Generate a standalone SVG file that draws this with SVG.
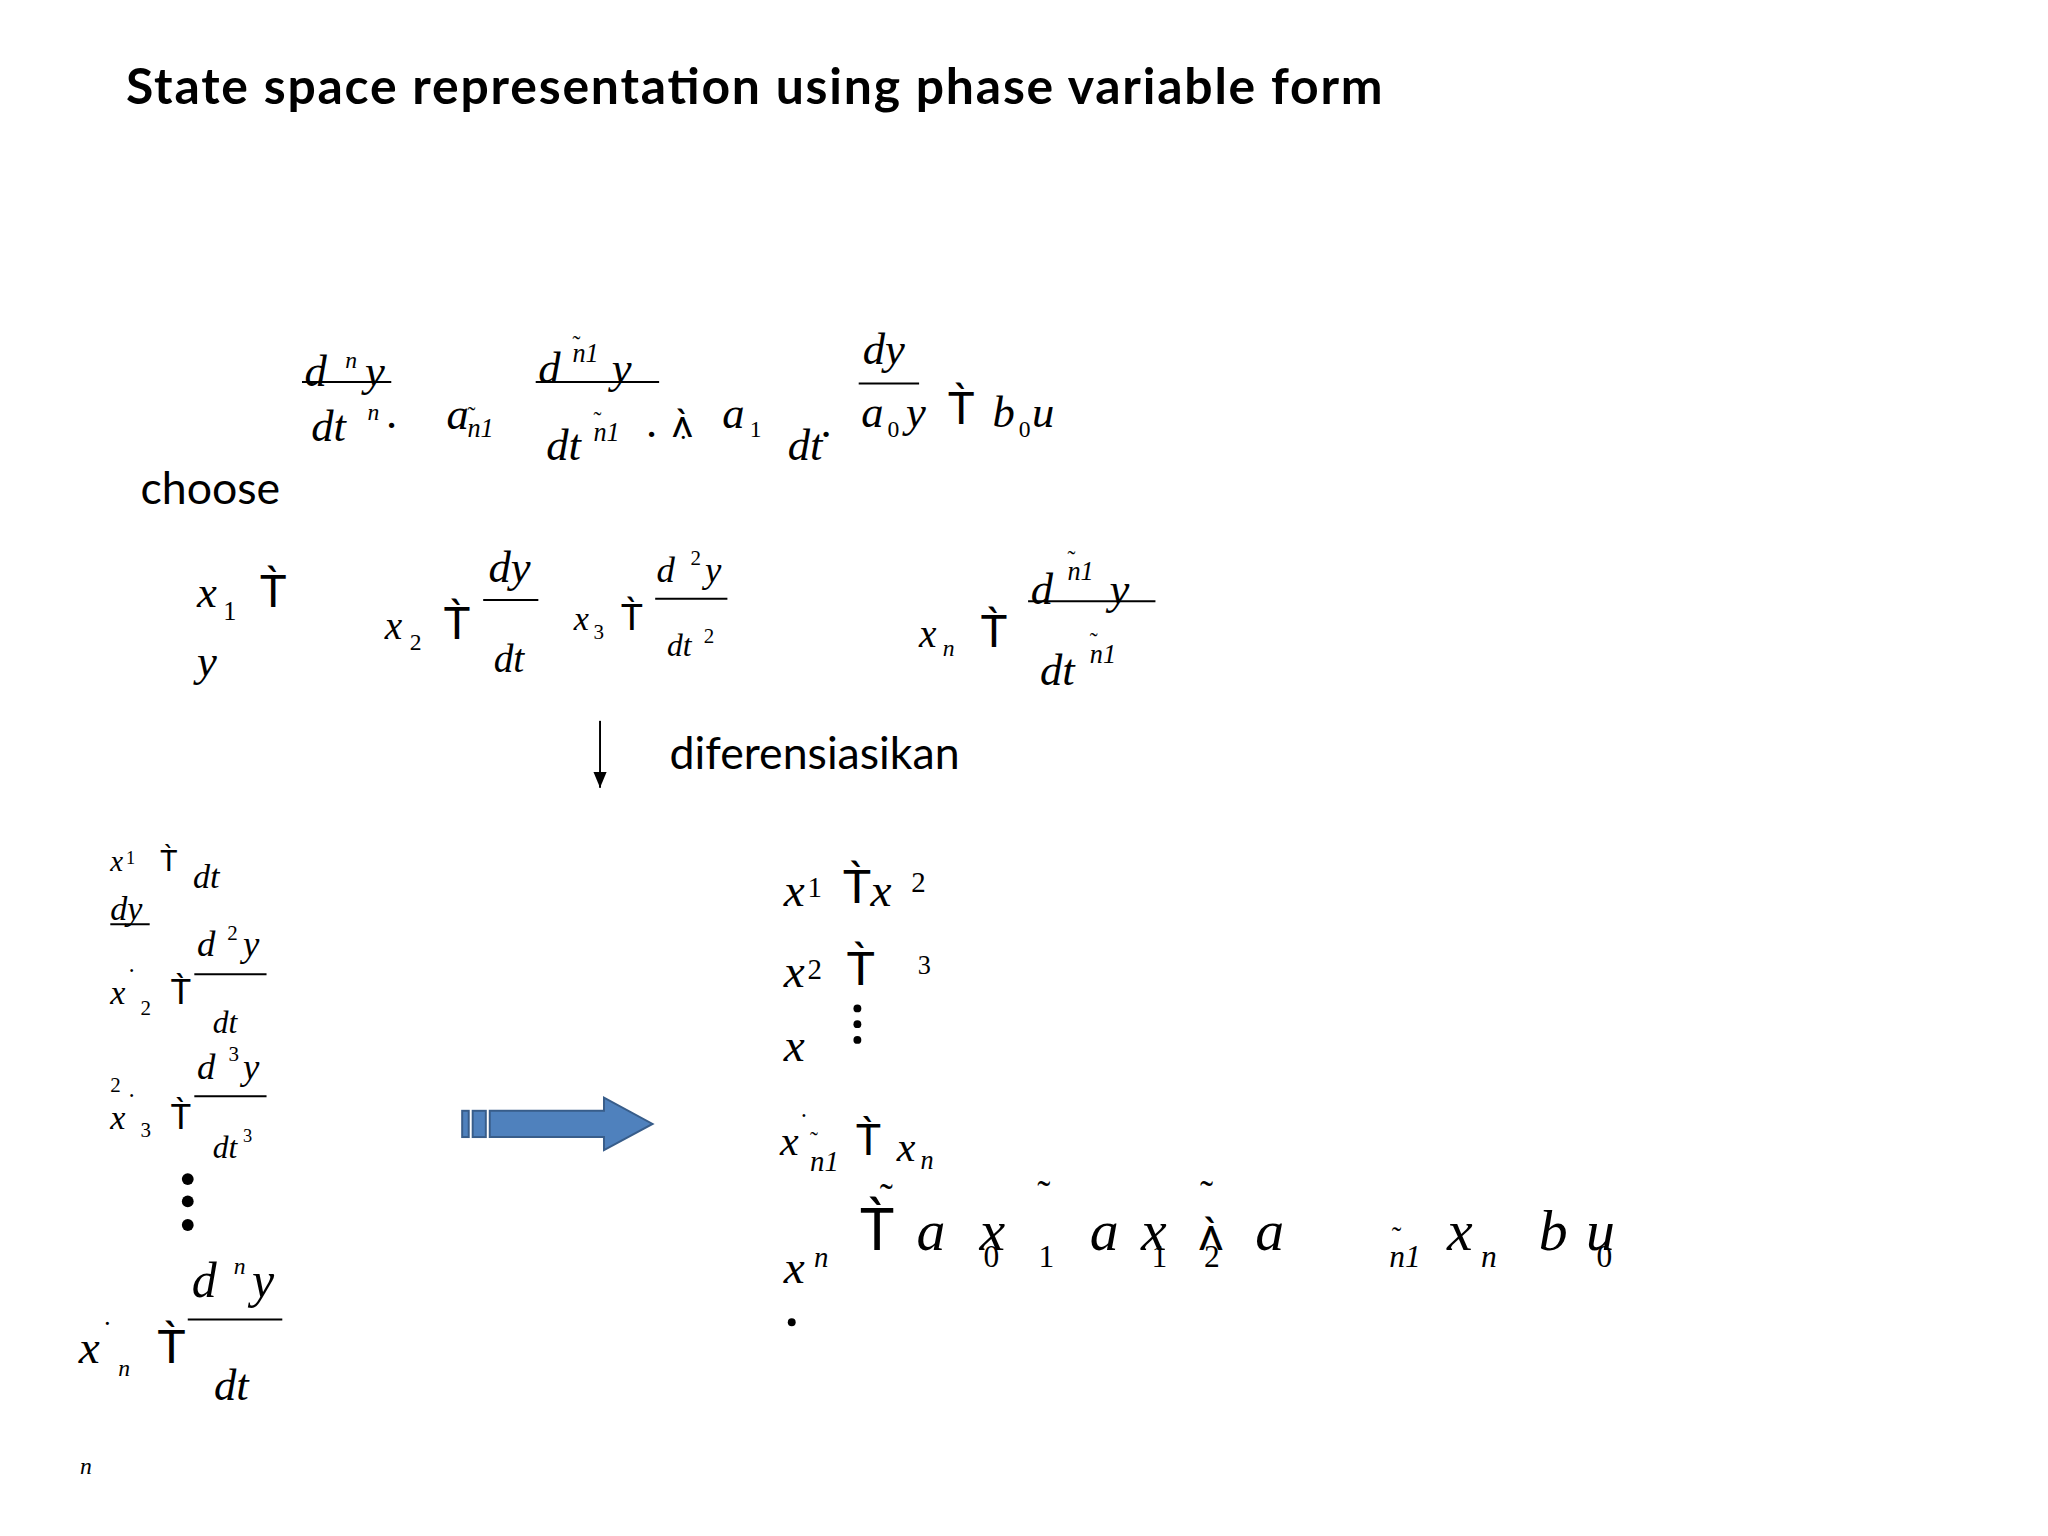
<svg xmlns="http://www.w3.org/2000/svg" width="2048" height="1536" viewBox="0 0 2048 1536">
<style>
.m{font-family:"Liberation Serif",serif;font-style:italic;fill:#000}
.r{font-family:"Liberation Serif",serif;fill:#000}
.s{font-family:"Lato","Liberation Sans",sans-serif;fill:#000}
.ln{stroke:#000;stroke-width:1.5}
</style>
<defs><marker id="ah" markerWidth="12" markerHeight="10" refX="12" refY="5" orient="auto" markerUnits="userSpaceOnUse"><path d="M0,0 L12,5 L0,10 z" fill="#000"/></marker></defs>
<rect width="2048" height="1536" fill="#fff"/>
<g transform="scale(1.313)">
<g id="title"><text class="s" x="96" y="79" font-size="38" font-weight="bold" textLength="957">State space representation using phase variable form</text></g>
<g id="eq1" font-size="34">
<text class="m" x="232" y="294">d</text><text class="m" x="263" y="280" font-size="18">n</text><text class="m" x="278" y="294">y</text><line class="ln" x1="230" y1="291" x2="298" y2="291"/>
<text class="m" x="237" y="336">dt</text><text class="m" x="280" y="320" font-size="18">n</text><text class="r" x="294" y="326">.</text>
<text class="m" x="340" y="327">a</text><text class="r" x="356" y="322" font-size="18">˜</text><text class="m" x="356" y="333" font-size="20">n1</text>
<text class="m" x="410" y="292">d</text><text class="r" x="436" y="268" font-size="18">˜</text><text class="m" x="436" y="276" font-size="20">n1</text><text class="m" x="466" y="292">y</text><line class="ln" x1="408" y1="291" x2="502" y2="291"/>
<text class="m" x="416" y="350">dt</text><text class="r" x="452" y="326" font-size="18">˜</text><text class="m" x="452" y="336" font-size="20">n1</text><text class="r" x="492" y="333">.</text>
<text class="s" x="512" y="333" font-size="30">ʌ̀</text><text class="r" x="518" y="334" font-size="20">.</text>
<text class="m" x="550" y="326">a</text><text class="r" x="571" y="333" font-size="18">1</text>
<text class="m" x="600" y="350">dt</text><text class="r" x="625" y="333">.</text>
<text class="m" x="657" y="277">dy</text><line class="ln" x1="654" y1="292" x2="700" y2="292"/>
<text class="m" x="656" y="325">a</text><text class="r" x="676" y="333" font-size="18">0</text><text class="m" x="690" y="325">y</text>
<text class="s" x="722" y="323">T̀</text>
<text class="m" x="756" y="325">b</text><text class="r" x="776" y="333" font-size="18">0</text><text class="m" x="786" y="325">u</text>
</g>
<g id="choose"><text class="s" x="107" y="384" font-size="34">choose</text></g>
<g id="eq2" font-size="34">
<text class="m" x="150" y="462">x</text><text class="r" x="170" y="472" font-size="20">1</text><text class="s" x="198" y="462">T̀</text><text class="m" x="150" y="515">y</text>
<text class="m" x="293" y="487" font-size="30">x</text><text class="r" x="312" y="495" font-size="18">2</text><text class="s" x="338" y="487">T̀</text>
<text class="m" x="372" y="443">dy</text><line class="ln" x1="368" y1="457" x2="410" y2="457"/><text class="m" x="376" y="512" font-size="30">dt</text>
<text class="m" x="437" y="480" font-size="26">x</text><text class="r" x="452" y="487" font-size="16">3</text><text class="s" x="473" y="480" font-size="28">T̀</text>
<text class="m" x="500" y="443" font-size="28">d</text><text class="r" x="526" y="430" font-size="16">2</text><text class="m" x="537" y="443" font-size="28">y</text><line class="ln" x1="499" y1="456" x2="554" y2="456"/>
<text class="m" x="508" y="500" font-size="24">dt</text><text class="r" x="536" y="490" font-size="16">2</text>
<text class="m" x="700" y="493" font-size="30">x</text><text class="m" x="718" y="500" font-size="18">n</text><text class="s" x="747" y="493">T̀</text>
<text class="m" x="785" y="460">d</text><text class="r" x="813" y="432" font-size="18">˜</text><text class="m" x="813" y="442" font-size="20">n1</text><text class="m" x="845" y="460">y</text><line class="ln" x1="783" y1="458" x2="880" y2="458"/>
<text class="m" x="792" y="522">dt</text><text class="r" x="830" y="494" font-size="18">˜</text><text class="m" x="830" y="505" font-size="20">n1</text>
</g>
<g id="connectors">
<line x1="457" y1="549" x2="457" y2="600" stroke="#000" stroke-width="1.5" marker-end="url(#ah)"/>
<g id="bigarrow" fill="#4f81bd" stroke="#385d8a" stroke-width="1.5">
<rect x="352" y="846" width="5" height="20"/><rect x="360" y="846" width="10" height="20"/>
<path d="M373,846 L460,846 L460,836 L497,856 L460,876 L460,866 L373,866 z"/>
</g>
</g>
<g id="diff"><text class="s" x="510" y="586" font-size="34">diferensiasikan</text></g>
<g id="left" font-size="26">
<text class="m" x="84" y="663" font-size="22">x</text><text class="r" x="96" y="658" font-size="14">1</text><text class="s" x="122" y="663" font-size="22">T̀</text><text class="m" x="147" y="676">dt</text>
<text class="m" x="84" y="701">dy</text><line class="ln" x1="84" y1="704" x2="114" y2="704"/>
<text class="m" x="150" y="728" font-size="28">d</text><text class="r" x="173" y="716" font-size="16">2</text><text class="m" x="185" y="728" font-size="28">y</text><line class="ln" x1="148" y1="742" x2="203" y2="742"/>
<text class="m" x="84" y="765">x</text><text class="r" x="97" y="752" font-size="20">˙</text><text class="r" x="107" y="773" font-size="16">2</text><text class="s" x="130" y="765">T̀</text><text class="m" x="162" y="787" font-size="24">dt</text>
<text class="m" x="150" y="822" font-size="28">d</text><text class="r" x="174" y="808" font-size="16">3</text><text class="m" x="185" y="822" font-size="28">y</text><line class="ln" x1="148" y1="835" x2="203" y2="835"/>
<text class="r" x="84" y="832" font-size="16">2</text>
<text class="m" x="84" y="860">x</text><text class="r" x="97" y="847" font-size="20">˙</text><text class="r" x="107" y="866" font-size="16">3</text><text class="s" x="130" y="860">T̀</text>
<text class="m" x="162" y="882" font-size="24">dt</text><text class="r" x="185" y="870" font-size="14">3</text>
<circle cx="143" cy="898" r="4.5"/><circle cx="143" cy="915" r="4.5"/><circle cx="143" cy="933" r="4.5"/>
<text class="m" x="146" y="988" font-size="38">d</text><text class="m" x="178" y="970" font-size="18">n</text><text class="m" x="192" y="988" font-size="38">y</text><line class="ln" x1="143" y1="1005" x2="215" y2="1005"/>
<text class="m" x="60" y="1038" font-size="36">x</text><text class="r" x="78" y="1022" font-size="22">˙</text><text class="m" x="90" y="1048" font-size="18">n</text><text class="s" x="120" y="1038" font-size="36">T̀</text>
<text class="m" x="163" y="1066" font-size="34">dt</text>
<text class="m" x="61" y="1123" font-size="18">n</text>
</g>
<g id="right" font-size="36">
<text class="m" x="597" y="690">x</text><text class="r" x="615" y="683" font-size="22">1</text><text class="s" x="642" y="688">T̀</text><text class="m" x="663" y="690">x</text><text class="r" x="694" y="679" font-size="22">2</text>
<text class="m" x="597" y="752">x</text><text class="r" x="615" y="746" font-size="22">2</text><text class="s" x="645" y="750">T̀</text><text class="r" x="699" y="742" font-size="20">3</text>
<circle cx="653" cy="768" r="3"/><circle cx="653" cy="780" r="3"/><circle cx="653" cy="792" r="3"/>
<text class="m" x="597" y="808">x</text>
<text class="m" x="594" y="880" font-size="32">x</text><text class="r" x="609" y="862" font-size="20">˙</text><text class="r" x="617" y="874" font-size="18">˜</text><text class="m" x="617" y="892" font-size="22">n1</text>
<text class="s" x="652" y="880" font-size="32">T̀</text><text class="m" x="683" y="884" font-size="32">x</text><text class="m" x="701" y="890" font-size="20">n</text>
<g font-size="44">
<text class="s" x="655" y="952">T̀</text><text class="r" x="670" y="922" font-size="30">˜</text>
<text class="m" x="698" y="952">a</text><text class="m" x="746" y="952">x</text><text class="r" x="749" y="965" font-size="24">0</text>
<text class="r" x="790" y="920" font-size="30">˜</text><text class="r" x="791" y="965" font-size="24">1</text>
<text class="m" x="830" y="952">a</text><text class="m" x="869" y="952">x</text><text class="r" x="877" y="965" font-size="24">1</text>
<text class="s" x="913" y="952" font-size="36">ʌ̀</text><text class="r" x="914" y="920" font-size="30">˜</text><text class="r" x="917" y="965" font-size="24">2</text>
<text class="m" x="956" y="952">a</text>
<text class="r" x="1060" y="950" font-size="22">˜</text><text class="m" x="1058" y="965" font-size="24">n1</text>
<text class="m" x="1102" y="952">x</text><text class="m" x="1128" y="965" font-size="24">n</text>
<text class="m" x="1172" y="952">b</text><text class="m" x="1208" y="952">u</text><text class="r" x="1216" y="965" font-size="24">0</text>
</g>
<text class="m" x="597" y="977">x</text><text class="m" x="620" y="965" font-size="22">n</text>
<circle cx="603" cy="1007" r="3"/>
</g>
</g>
</svg>
